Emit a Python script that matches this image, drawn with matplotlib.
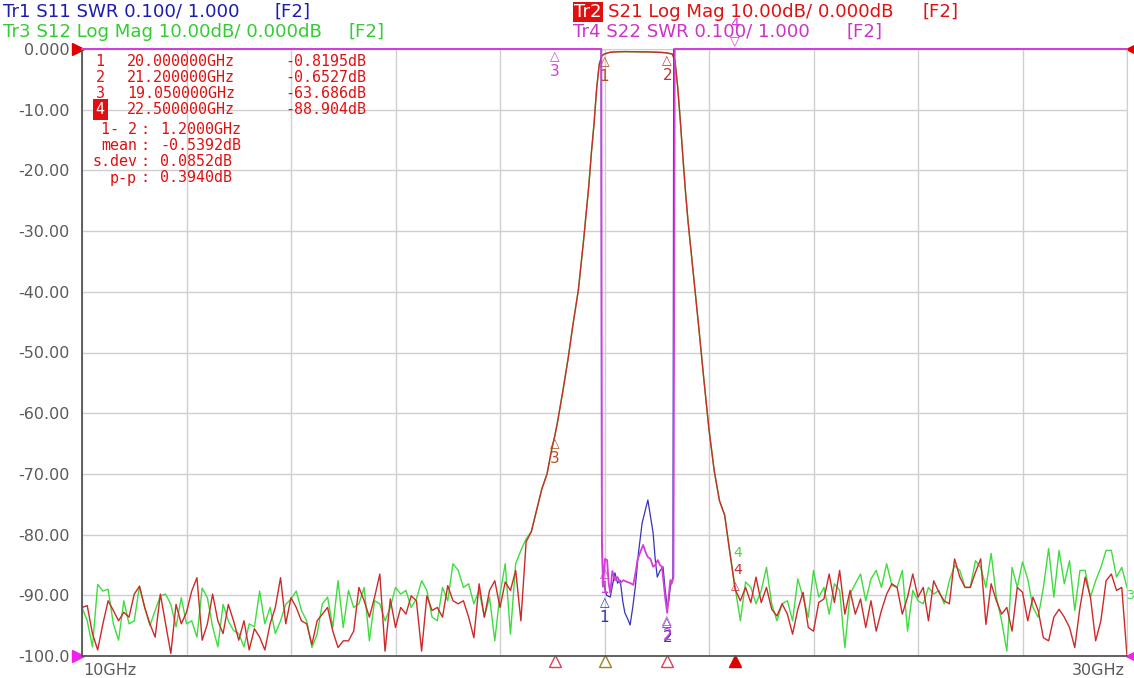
import numpy as np
import matplotlib.pyplot as plt

# sweep 10..30 GHz, noise floor read at 0.1 GHz steps
f_lo = np.round(np.linspace(10.0, 18.5, 86), 2)
f_hi = np.round(np.linspace(22.5, 30.0, 76), 2)

s21_lo = [-92, -91.7, -96.3, -99, -94.7, -90.9, -92.5, -94.2, -92.8, -93.6,
          -89.8, -88.5, -92, -94.7, -96.9, -89.8, -94.7, -99.6, -91.5, -94.7,
          -92.8, -89.3, -87.1, -97.4, -94.7, -89.8, -94.2, -96.3, -91.5, -94.2,
          -97.4, -94.2, -99, -95.5, -96.9, -99, -94.7, -92, -87.1, -94.7,
          -90.4, -92, -94.2, -94.7, -98.1, -94.2, -93.1, -92, -95.9, -98.6,
          -97.5, -97.5, -95.9, -88.7, -90.9, -93.6, -90.3, -86.5, -99.2, -90.6,
          -95.3, -92, -93.1, -90.1, -90.9, -99.2, -90.1, -92.5, -92, -93.6,
          -88.4, -90.9, -91.4, -90.9, -93.6, -97, -88.1, -93.6, -89.2, -87.6,
          -92, -87.8, -89.2, -85.9, -94.2, -81.2]
s12_lo = [-92, -94.2, -98.5, -88.2, -89.3, -89, -94.7, -97.4, -90.9, -94.7,
          -94.2, -88.5, -92, -95, -92.5, -90.1, -89.8, -91.5, -95.2, -90.4,
          -94.7, -94.2, -96.9, -88.8, -90.4, -95.2, -98.5, -91.5, -94.2, -95.8,
          -96.3, -98.5, -94.7, -95.2, -89.3, -94.7, -92, -96.3, -94.2, -91.5,
          -90.6, -89.3, -92.5, -94.2, -98.6, -96.4, -91.4, -90.3, -95.3, -87.6,
          -95.3, -89.2, -92, -91.4, -88.7, -97.5, -90.9, -91.4, -94.2, -92,
          -88.7, -89.8, -89.2, -92, -90.6, -87.6, -89.2, -93.6, -94.2, -88.7,
          -90.9, -84.8, -85.9, -88.7, -88.1, -91.4, -89.2, -93.6, -90.3, -97.5,
          -89.8, -84.8, -96.4, -84.8, -82.6, -80.7]

# filter skirts and passband (S21 and S12 overlap)
f_band = [18.6, 18.7, 18.8, 18.9, 19.0, 19.05, 19.1, 19.2, 19.3, 19.4, 19.5, 19.6,
          19.7, 19.75, 19.8, 19.85, 19.9, 19.95, 20.0, 20.1, 20.2, 20.3, 20.4, 20.5,
          20.6, 20.7, 20.8, 20.9, 21.0, 21.1, 21.2, 21.3, 21.35, 21.4, 21.45, 21.5,
          21.55, 21.6, 21.7, 21.8, 21.9, 22.0, 22.1, 22.2, 22.3, 22.4]
s21_band = [-79.5, -76, -72.5, -70, -65.5, -63.7, -61.5, -56.5, -51.2, -45.2, -39.7, -31.5,
            -22.5, -17, -12.3, -6.5, -2.5, -1.1, -0.82, -0.55, -0.48, -0.45, -0.43, -0.44,
            -0.46, -0.48, -0.47, -0.5, -0.53, -0.57, -0.65, -0.85, -2.0, -6.2, -11.7, -17.8,
            -23.5, -28.5, -37, -45.5, -54.3, -62.7, -69.5, -74.4, -76.8, -83]

s21_hi = [-89, -90.9, -88.7, -91.2, -87, -91.2, -88.7, -92.3, -93.4, -91.4,
          -93.1, -96.4, -92.3, -89.5, -95.3, -95.9, -91.2, -90.6, -86.5, -91.2,
          -85.9, -93.1, -89.2, -93.1, -90.6, -95.3, -90.9, -95.9, -92.5, -89.8,
          -88.1, -88.7, -93.1, -90.3, -86.5,
          -90.3, -88.7, -94.2, -87.6, -89.5, -90.9, -91.4, -84, -87, -88.7,
          -88.7, -86.2, -84, -94.8, -88.1, -90.9, -93.1, -92, -95.9, -88.7,
          -89.5, -94.2, -90.3, -92.5, -97, -97.5, -93.6, -92.3, -93.6, -95.3,
          -98.6, -92, -87, -90.3, -97.5, -94.2, -87.6, -86.5, -89.2, -88.7, -100]
s12_hi = [-88.7, -94.2, -87.8, -88.7, -91.4, -89.2, -85.4, -91.4, -94.2, -91.4,
          -90.9, -94.2, -87.3, -90.3, -93.6, -85.9, -90.3, -88.7, -93.1, -88.1,
          -89.2, -98.6, -89.8, -88.1, -86.5, -90.9, -87.3, -85.9, -88.7, -84.8,
          -88.4, -88.7, -85.9, -95.9, -89.2,
          -90.9, -91.4, -88.7, -89.8, -89.2, -91.4, -87.6, -85.1, -85.9, -88.7,
          -88.7, -84.3, -85.4, -88.7, -83.1, -90.3, -94.2, -99.2, -85.4, -88.7,
          -84.5, -87.3, -92, -93.6, -88.7, -82.3, -90.3, -82.6, -88.1, -84.3,
          -92.5, -85.9, -85.9, -90.3, -87.6, -85.4, -82.6, -82.6, -87, -85.4, -88.7]

# S11 / S22 as SWR, off scale outside the passband
s11_f = [10.0, 19.935, 19.945, 19.97, 20.04, 20.11, 20.16, 20.2, 20.25, 20.3, 20.35, 20.39,
         20.45, 20.49, 20.54, 20.59, 20.65, 20.72, 20.78, 20.83, 20.88, 20.93, 20.97, 21.01,
         21.06, 21.12, 21.16, 21.2, 21.23, 21.26, 21.31, 21.325, 30.0]
s11_swr = [9, 9, 1.2, 1.125, 1.10, 1.097, 1.12, 1.137, 1.12, 1.125, 1.09, 1.071,
           1.06, 1.051, 1.08, 1.114, 1.17, 1.219, 1.24, 1.257, 1.23, 1.203, 1.16, 1.13,
           1.14, 1.147, 1.11, 1.081, 1.09, 1.114, 1.13, 9, 9]
s22_f = [10.0, 19.94, 19.95, 19.97, 20.01, 20.05, 20.08, 20.11, 20.15, 20.2, 20.25, 20.3,
         20.36, 20.43, 20.5, 20.55, 20.6, 20.63, 20.68, 20.74, 20.79, 20.83, 20.88, 20.93,
         20.97, 21.02, 21.06, 21.1, 21.16, 21.2, 21.23, 21.26, 21.29, 21.32, 21.345, 30.0]
s22_swr = [9, 9, 1.203, 1.114, 1.16, 1.158, 1.12, 1.104, 1.14, 1.125, 1.13, 1.12,
           1.125, 1.122, 1.12, 1.117, 1.14, 1.158, 1.17, 1.183, 1.17, 1.163, 1.16, 1.147,
           1.15, 1.158, 1.15, 1.147, 1.097, 1.071, 1.10, 1.125, 1.12, 1.13, 9, 9]

marker_f = [20.0, 21.2, 19.05, 22.5]
yticks = np.arange(-100, 1, 10)
ylabels = ['-100.0', '-90.00', '-80.00', '-70.00', '-60.00', '-50.00',
           '-40.00', '-30.00', '-20.00', '-10.00', '0.000']

C11, C21, C12, C22 = '#3535b5', '#cc2a2a', '#3fdc3f', '#d83cd8'
CMK = '#b8501c'

W, H = 1134, 678


def fx(x):
    return x / W


def fy(y):
    return 1 - y / H


fig = plt.figure(figsize=(W / 100, H / 100), dpi=100)
ax = fig.add_axes([fx(82), fy(656), (1127 - 82) / W, (656 - 49) / H])

f = np.concatenate([f_lo, f_band, f_hi])
s21 = np.clip(np.concatenate([s21_lo, s21_band, s21_hi]), -100, 0)
s12 = np.clip(np.concatenate([s12_lo, s21_band, s12_hi]), -100, 0)
ax.plot(f, s12, color=C12, lw=1.0)
ax.plot(f, s21, color=C21, lw=1.0)

ax.set_xlim(10, 30)
ax.set_ylim(-100, 0)
ax.set_xticks(np.linspace(10, 30, 11))
ax.set_xticklabels([])
ax.set_yticks(yticks)
ax.set_yticklabels(ylabels)
ax.tick_params(length=0)
ax.tick_params(axis='y', pad=9, labelsize=11.5, labelcolor='#5a5a5a')
ax.grid(color='#cfcfcf', lw=1.0)
ax.set_axisbelow(True)
for side in ['left', 'bottom']:
    ax.spines[side].set_color('#555555')
    ax.spines[side].set_linewidth(1.3)
for side in ['top', 'right']:
    ax.spines[side].set_color('#cfcfcf')

# SWR traces on their own scale: 1.000 at bottom, 0.1/div
ax2 = ax.twinx()
ax2.set_ylim(1.0, 2.0)
ax2.set_yticks([])
for s in ax2.spines.values():
    s.set_visible(False)
ax2.plot(s11_f, np.clip(s11_swr, 1, 2), color=C11, lw=0.9, clip_on=False)
ax2.plot(s22_f, np.clip(s22_swr, 1, 2), color=C22, lw=1.3, clip_on=False)

# markers on S21 / S12
for i, (mf, col) in enumerate(zip(marker_f[:3], [CMK, '#c03030', CMK])):
    v = np.interp(mf, f, s21)
    ax.annotate('\u25b3', (mf, v), xytext=(0, -1), textcoords='offset points',
                ha='center', va='top', color=col, fontsize=9)
    ax.annotate(str([1, 2, 3][i]), (mf, v), xytext=(0, -11), textcoords='offset points',
                ha='center', va='top', color=col, fontsize=11)
v4 = np.interp(marker_f[3], f, s21)
ax.annotate('4', (marker_f[3], v4), xytext=(2, 26), textcoords='offset points',
            ha='center', va='center', color=C12, fontsize=10)
ax.annotate('4', (marker_f[3], v4), xytext=(2, 14), textcoords='offset points',
            ha='center', va='center', color=C21, fontsize=10)
ax.annotate('\u25b3', (marker_f[3], v4), xytext=(0, 2), textcoords='offset points',
            ha='center', va='center', color=C21, fontsize=8)
ax.text(29.99, -90, '3', color=C12, fontsize=9, va='center', ha='left', clip_on=False)

# markers on S22 / S11
for n, mf in zip([1, 2], marker_f[:2]):
    for sf, sw, col, dy in [(s11_f, s11_swr, C11, -6), (s22_f, s22_swr, C22, 0)]:
        v = np.interp(mf, sf, sw)
        ax2.annotate('\u25b3', (mf, v), xytext=(0, -1 + dy), textcoords='offset points',
                     ha='center', va='top', color=col, fontsize=9)
        ax2.annotate(str(n), (mf, v), xytext=(0, -11 + dy), textcoords='offset points',
                     ha='center', va='top', color=col, fontsize=11)
ax2.annotate('\u25b3', (marker_f[2], 2.0), xytext=(0, -1), textcoords='offset points',
             ha='center', va='top', color=C22, fontsize=9)
ax2.annotate('3', (marker_f[2], 2.0), xytext=(0, -11), textcoords='offset points',
             ha='center', va='top', color=C22, fontsize=11)
ax2.annotate('\u25bd', (marker_f[3], 2.0), xytext=(0, 1), textcoords='offset points',
             ha='center', va='bottom', color=C22, fontsize=9, annotation_clip=False)
ax2.annotate('4', (marker_f[3], 2.0), xytext=(0, 13), textcoords='offset points',
             ha='center', va='bottom', color=C22, fontsize=10, annotation_clip=False)

# marker positions along the bottom edge
trans = ax.get_xaxis_transform()
for mf, col, fill in zip(marker_f, ['#a08020', '#e0405a', '#e0405a', '#e00000'],
                         ['none', 'none', 'none', '#e00000']):
    ax.plot(mf, -0.008, marker='^', ms=8, mfc=fill, mec=col, mew=1.0,
            transform=trans, clip_on=False)

# reference position arrows
ax.plot(-0.004, 1.0, marker='>', ms=8, color='#e00000', transform=ax.transAxes, clip_on=False)
ax.plot(-0.004, 0.0, marker='>', ms=8, color='#ee22ee', transform=ax.transAxes, clip_on=False)
ax.plot(1.004, 1.0, marker='<', ms=7, color='#e00000', transform=ax.transAxes, clip_on=False)
ax.plot(1.004, 0.0, marker='<', ms=7, color='#ee22ee', transform=ax.transAxes, clip_on=False)

ax.text(0.001, -0.012, '10GHz', transform=ax.transAxes, ha='left', va='top',
        fontsize=11.5, color='#5a5a5a')
ax.text(0.998, -0.012, '30GHz', transform=ax.transAxes, ha='right', va='top',
        fontsize=11.5, color='#5a5a5a')

# trace headers
hs = 13.1
fig.text(fx(3), fy(12), 'Tr1 S11 SWR 0.100/ 1.000', color='#1c1cb0', fontsize=hs, va='center')
fig.text(fx(275), fy(12), '[F2]', color='#1c1cb0', fontsize=hs, va='center')
fig.text(fx(3), fy(32), 'Tr3 S12 Log Mag 10.00dB/ 0.000dB', color='#33cc33', fontsize=hs, va='center')
fig.text(fx(349), fy(32), '[F2]', color='#33cc33', fontsize=hs, va='center')
fig.text(fx(574), fy(12), 'Tr2', color='white', fontsize=hs, va='center',
         bbox=dict(boxstyle='square,pad=0.08', fc='#e01010', ec='none'))
fig.text(fx(608), fy(12), 'S21 Log Mag 10.00dB/ 0.000dB', color='#e01010', fontsize=hs, va='center')
fig.text(fx(922), fy(12), '[F2]', color='#e01010', fontsize=hs, va='center')
fig.text(fx(573), fy(32), 'Tr4 S22 SWR 0.100/ 1.000', color='#cc33cc', fontsize=hs, va='center')
fig.text(fx(846), fy(32), '[F2]', color='#cc33cc', fontsize=hs, va='center')

# marker readout table
mono = 'DejaVu Sans Mono'
ts = 10.8
rows = [('1', '20.000000GHz', '-0.8195dB'), ('2', '21.200000GHz', '-0.6527dB'),
        ('3', '19.050000GHz', '-63.686dB'), ('4', '22.500000GHz', '-88.904dB')]
for k, (n, fr, val) in enumerate(rows):
    y = 61 + k * 16
    if n == '4':
        fig.text(fx(100), fy(y), n, color='white', fontsize=ts, family=mono, ha='center',
                 va='center', bbox=dict(boxstyle='square,pad=0.2', fc='#e01010', ec='none'))
    else:
        fig.text(fx(100), fy(y), n, color='#e01010', fontsize=ts, family=mono,
                 ha='center', va='center')
    fig.text(fx(127), fy(y), fr, color='#e01010', fontsize=ts, family=mono, va='center')
    fig.text(fx(285), fy(y), val, color='#e01010', fontsize=ts, family=mono, va='center')

stats = [('1- 2', '1.2000GHz'), ('mean', '-0.5392dB'), ('s.dev', '0.0852dB'), ('p-p', '0.3940dB')]
for k, (lab, val) in enumerate(stats):
    y = 130 + k * 16
    fig.text(fx(137), fy(y), lab, color='#e01010', fontsize=ts, family=mono, ha='right', va='center')
    fig.text(fx(145), fy(y), ':', color='#e01010', fontsize=ts, family=mono, ha='center', va='center')
    fig.text(fx(160), fy(y), val, color='#e01010', fontsize=ts, family=mono, va='center')

fig.savefig('out.png', dpi=100, facecolor='white')
